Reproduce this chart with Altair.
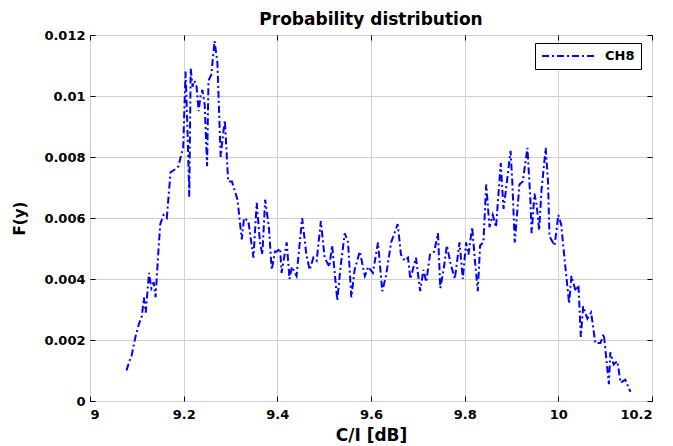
import altair as alt
import pandas as pd

# C/I values [dB]
ci_db = [9.078, 9.084, 9.089, 9.097, 9.104, 9.111, 9.115, 9.119, 9.126, 9.131,
         9.136, 9.140, 9.146, 9.150, 9.157, 9.164, 9.172, 9.182, 9.189, 9.192,
         9.199, 9.204, 9.208, 9.212, 9.215, 9.219, 9.222, 9.227, 9.232, 9.236,
         9.240, 9.245, 9.250, 9.253, 9.259, 9.266, 9.272, 9.279, 9.283, 9.288,
         9.295, 9.303, 9.315, 9.324, 9.329, 9.338, 9.349, 9.356, 9.363, 9.368,
         9.374, 9.382, 9.388, 9.395, 9.399, 9.406, 9.409, 9.420, 9.426, 9.431,
         9.441, 9.453, 9.462, 9.469, 9.477, 9.484, 9.493, 9.501, 9.511, 9.517,
         9.528, 9.535, 9.544, 9.551, 9.558, 9.565, 9.576, 9.587, 9.594, 9.604,
         9.615, 9.624, 9.632, 9.643, 9.650, 9.657, 9.664, 9.672, 9.679, 9.684,
         9.696, 9.705, 9.712, 9.718, 9.726, 9.735, 9.743, 9.748, 9.755, 9.762,
         9.770, 9.779, 9.789, 9.796, 9.803, 9.808, 9.816, 9.822, 9.828, 9.833,
         9.840, 9.846, 9.853, 9.860, 9.867, 9.877, 9.883, 9.888, 9.898, 9.902,
         9.907, 9.917, 9.924, 9.934, 9.940, 9.943, 9.949, 9.954, 9.959, 9.964,
         9.973, 9.978, 9.981, 9.992, 10.000, 10.006, 10.013, 10.019, 10.023, 10.028,
         10.037, 10.043, 10.048, 10.053, 10.062, 10.070, 10.079, 10.090, 10.097, 10.108,
         10.111, 10.118, 10.126, 10.133, 10.143, 10.154]

# F(y) values
fy = [0.0010, 0.0013, 0.0015, 0.0021, 0.0025, 0.0028, 0.0034, 0.0029, 0.0042, 0.0037,
      0.0039, 0.0034, 0.0049, 0.0058, 0.0061, 0.0060, 0.0075, 0.0076, 0.0077, 0.0079,
      0.0083, 0.0108, 0.0090, 0.0067, 0.0109, 0.0103, 0.0105, 0.0104, 0.0095, 0.0100,
      0.0102, 0.0097, 0.0077, 0.0105, 0.0107, 0.0118, 0.0111, 0.0080, 0.0086, 0.0092,
      0.0072, 0.0072, 0.0066, 0.0053, 0.0060, 0.0059, 0.0047, 0.0065, 0.0052, 0.0048,
      0.0066, 0.0057, 0.0043, 0.0049, 0.0049, 0.0050, 0.0042, 0.0052, 0.0040, 0.0044,
      0.0041, 0.0060, 0.0048, 0.0043, 0.0047, 0.0046, 0.0059, 0.0047, 0.0044, 0.0051,
      0.0033, 0.0044, 0.0055, 0.0052, 0.0034, 0.0043, 0.0049, 0.0041, 0.0044, 0.0042,
      0.0052, 0.0036, 0.0041, 0.0052, 0.0055, 0.0058, 0.0048, 0.0046, 0.0047, 0.0040,
      0.0047, 0.0036, 0.0043, 0.0039, 0.0048, 0.0049, 0.0055, 0.0037, 0.0043, 0.0051,
      0.0045, 0.0040, 0.0052, 0.0040, 0.0052, 0.0048, 0.0057, 0.0046, 0.0036, 0.0051,
      0.0052, 0.0071, 0.0057, 0.0061, 0.0057, 0.0078, 0.0063, 0.0069, 0.0082, 0.0071,
      0.0052, 0.0071, 0.0072, 0.0083, 0.0067, 0.0055, 0.0068, 0.0064, 0.0056, 0.0069,
      0.0083, 0.0072, 0.0054, 0.0051, 0.0061, 0.0058, 0.0047, 0.0038, 0.0032, 0.0041,
      0.0036, 0.0038, 0.0021, 0.0031, 0.0027, 0.0029, 0.0019, 0.0019, 0.0022, 0.00055,
      0.0016, 0.0012, 0.0013, 0.0006, 0.0007, 0.0003]

series_name = ["CH8"]
x_ticks = [9.0, 9.2, 9.4, 9.6, 9.8, 10.0, 10.2]
y_ticks = [0.0, 0.002, 0.004, 0.006, 0.008, 0.010, 0.012]

df = pd.DataFrame({"ci": ci_db, "fy": fy, "series": series_name * len(ci_db)})

FONT = "DejaVu Sans"
xscale = alt.Scale(domain=[9.0, 10.2], nice=False, zero=False)
yscale = alt.Scale(domain=[0.0, 0.012], nice=False, zero=False)

base = alt.Chart(df)

line = base.mark_line(
    color="#0000ff", strokeWidth=2, strokeDash=[7, 3, 2, 3]
).encode(
    x=alt.X("ci:Q", scale=xscale, axis=alt.Axis(
        values=x_ticks, format="~g", title="C/I [dB]", grid=True, ticks=False,
        domain=False, labelPadding=7, titlePadding=6,
        gridColor="#d0d0d0", gridWidth=1,
        labelFont=FONT, labelFontSize=13, labelFontWeight="bold", labelColor="#000000",
        titleFont=FONT, titleFontSize=17, titleFontWeight="bold", titleColor="#000000")),
    y=alt.Y("fy:Q", scale=yscale, axis=alt.Axis(
        values=y_ticks, format="~g", title="F(y)", grid=True, ticks=False,
        domain=False, labelPadding=5, titlePadding=16,
        gridColor="#d0d0d0", gridWidth=1,
        labelFont=FONT, labelFontSize=13, labelFontWeight="bold", labelColor="#000000",
        titleFont=FONT, titleFontSize=15, titleFontWeight="bold", titleColor="#000000")),
    color=alt.Color("series:N", scale=alt.Scale(range=["#0000ff"]), legend=alt.Legend(
        title=None, orient="none", legendX=445, legendY=8,
        symbolType="stroke", symbolSize=2800, symbolStrokeWidth=2, clipHeight=14,
        symbolDash=[7, 3, 2, 3], labelFont=FONT, labelFontSize=13,
        labelFontWeight="bold", labelColor="#000000", labelOffset=9,
        padding=6, strokeColor="#000000", fillColor="#ffffff")),
)

def ticks_layer(xo, yo):
    return base.mark_point(opacity=0).encode(
        x=alt.X("ci:Q", scale=xscale, axis=alt.Axis(
            orient=xo, offset=-5, values=x_ticks, labels=False, grid=False,
            domain=False, ticks=True, tickSize=5, tickColor="#000000", title=None)),
        y=alt.Y("fy:Q", scale=yscale, axis=alt.Axis(
            orient=yo, offset=-5, values=y_ticks, labels=False, grid=False,
            domain=False, ticks=True, tickSize=5, tickColor="#000000", title=None)),
    )

chart = alt.layer(
    line, ticks_layer("bottom", "left"), ticks_layer("top", "right")
).resolve_axis(
    x="independent", y="independent"
).properties(
    width=562, height=366,
    title=alt.TitleParams("Probability distribution", font=FONT, fontSize=17,
                          fontWeight="bold", color="#000000", offset=0,
                          frame="group", anchor="middle"),
    autosize=alt.AutoSizeParams(type="none"),
    padding={"left": 82, "top": 27, "right": 13, "bottom": 45},
).configure_view(
    stroke="#000000", strokeWidth=1
).configure(background="#ffffff")

chart.save("out.html", embed_options={"renderer": "svg", "actions": False})
